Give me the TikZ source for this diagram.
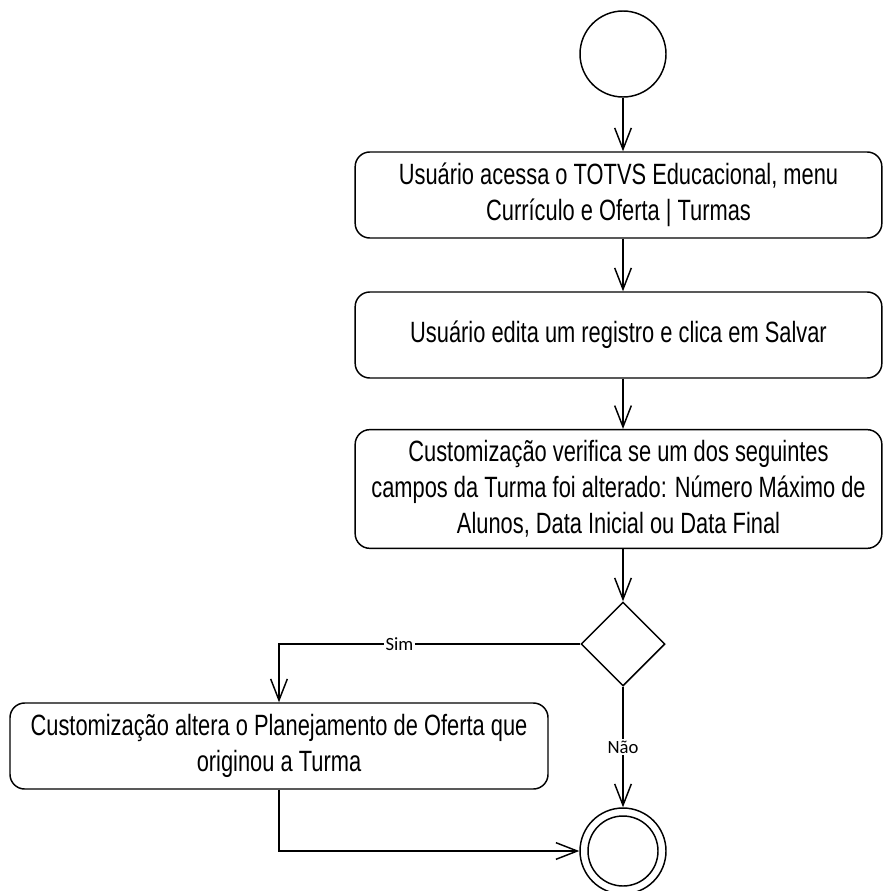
\documentclass[tikz,border=0pt]{standalone}
\usepackage{fontspec}
\setmainfont{Liberation Sans}[FakeStretch=0.745]
\newfontfamily\lblfont{Carlito}
\usetikzlibrary{shapes.geometric, arrows.meta}

\begin{document}
\begin{tikzpicture}[x=0.75pt, y=-0.75pt, line width=1.1pt,
        activity/.style={draw, rounded corners=11pt, align=center, inner sep=0pt,
            font=\fontsize{22}{27}\selectfont},
        initstate/.style={draw, circle, minimum size=64.5pt, inner sep=0pt},
        decision/.style={draw, diamond, aspect=1, minimum size=63pt, inner sep=0pt},
        flow/.style={-{Straight Barb[length=16pt, width=12.5pt, line width=1.1pt]}},
        guard/.style={fill=white, inner sep=1pt, font=\lblfont\fontsize{14}{14}\selectfont}]
    \useasboundingbox (0,0) rectangle (885,891);

    \node[initstate] (start) at (623,54) {};
    \node[activity, minimum width=395pt, minimum height=64.5pt] (acessa) at (618.5,195)
        {Usuário acessa o TOTVS Educacional, menu\\Currículo e Oferta | Turmas};
    \node[activity, minimum width=395pt, minimum height=64.5pt] (edita) at (618.5,335)
        {Usuário edita um registro e clica em Salvar};
    \node[activity, minimum width=395pt, minimum height=89pt] (verifica) at (618.5,489)
        {Customização verifica se um dos seguintes\\campos da Turma foi alterado: Número Máximo de\\Alunos, Data Inicial ou Data Final};
    \node[decision] (alterado) at (623,644) {};
    \node[activity, minimum width=403.5pt, minimum height=64.5pt] (altera) at (279,746)
        {Customização altera o Planejamento de Oferta que\\originou a Turma};
    \node[initstate] (fim) at (623,851) {};
    \node[draw, circle, minimum size=52.5pt, inner sep=0pt] (fimin) at (fim) {};

    \draw[flow] (start.south) -- (start.south |- acessa.north);
    \draw[flow] (start.south |- acessa.south) -- (start.south |- edita.north);
    \draw[flow] (start.south |- edita.south) -- (start.south |- verifica.north);
    \draw[flow] (start.south |- verifica.south) -- (alterado.north);
    \draw[flow] (alterado.west) -| node[guard, pos=0.3] {Sim} (altera.north);
    \draw[flow] (alterado.south) -- node[guard] {Não} (fim.north);
    \draw[flow] (altera.south) |- (fim.west);
\end{tikzpicture}
\end{document}
